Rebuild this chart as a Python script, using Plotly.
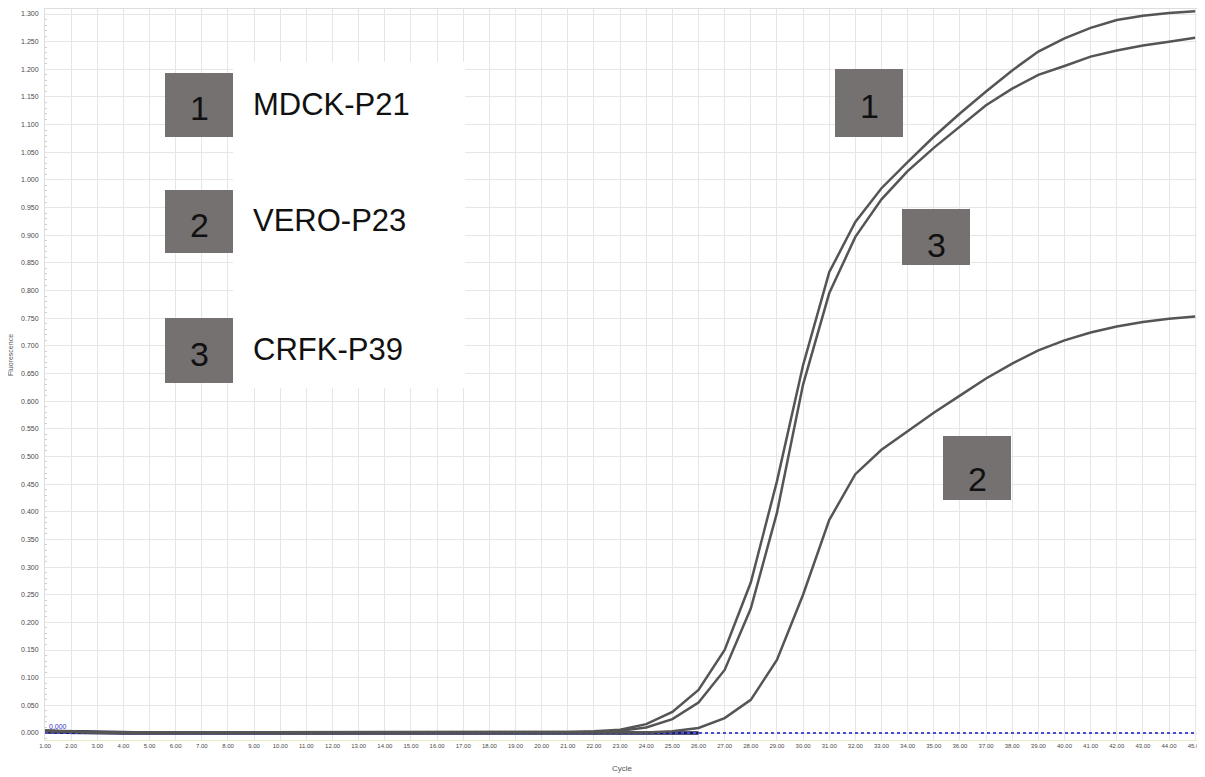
import plotly.graph_objects as go

# ---------------- data ----------------
cycles = list(range(1, 46))

mdck_p21 = [0.004, 0.002, 0.001, 0.001, 0.001, 0.001, 0.001, 0.001, 0.001, 0.001,
            0.001, 0.001, 0.001, 0.001, 0.001, 0.001, 0.001, 0.001, 0.001, 0.002,
            0.002, 0.003, 0.006, 0.016, 0.038, 0.078, 0.150, 0.272, 0.455, 0.665,
            0.833, 0.924, 0.985, 1.032, 1.078, 1.120, 1.160, 1.198, 1.232, 1.256,
            1.275, 1.289, 1.297, 1.302, 1.305]

crfk_p39 = [0.004, 0.002, 0.001, 0.001, 0.001, 0.001, 0.001, 0.001, 0.001, 0.001,
            0.001, 0.001, 0.001, 0.001, 0.001, 0.001, 0.001, 0.001, 0.001, 0.001,
            0.001, 0.002, 0.004, 0.010, 0.025, 0.055, 0.114, 0.225, 0.398, 0.630,
            0.795, 0.897, 0.965, 1.016, 1.058, 1.097, 1.135, 1.165, 1.190, 1.206,
            1.223, 1.234, 1.243, 1.250, 1.257]

vero_p23 = [0.004, 0.002, 0.001, 0.001, 0.001, 0.001, 0.001, 0.001, 0.001, 0.001,
            0.001, 0.001, 0.001, 0.001, 0.001, 0.001, 0.001, 0.001, 0.001, 0.001,
            0.001, 0.001, 0.001, 0.001, 0.003, 0.009, 0.027, 0.060, 0.132, 0.250,
            0.385, 0.468, 0.512, 0.546, 0.579, 0.610, 0.641, 0.668, 0.692, 0.710,
            0.724, 0.735, 0.743, 0.749, 0.753]

baseline_cycles = list(range(1, 27))
baseline_a = [0.004, 0.003, 0.002, 0.001, 0.001, 0.001, 0.001, 0.001, 0.001, 0.001,
              0.001, 0.001, 0.001, 0.001, 0.001, 0.001, 0.001, 0.001, 0.001, 0.001,
              0.001, 0.001, 0.001, 0.001, 0.001, 0.001]
baseline_b = [0.001, 0.000, -0.001, -0.001, -0.001, -0.001, -0.001, -0.001, -0.001, -0.001,
              -0.001, -0.001, -0.001, -0.001, -0.001, -0.001, -0.001, -0.001, -0.001, -0.001,
              -0.001, -0.001, -0.001, -0.001, -0.001, -0.001]

threshold_value = 0.000
threshold_label = "0.000"

legend_numbers = ["1", "2", "3"]
legend_names = ["MDCK-P21", "VERO-P23", "CRFK-P39"]

y_title = "Fluorescence"
x_title = "Cycle"

# ---------------- layout geometry (screen pixels) ----------------
# page body has a default 8px margin; the figure starts at (8, 8) on screen
OX, OY = 8, 8
SW, SH = 1205, 777
W, H = SW - OX, SH - OY
plot_left, plot_right, plot_top, plot_bottom = 45, 1198, 8, 740
L, R, T, B = plot_left - OX, SW - plot_right, plot_top - OY, SH - plot_bottom
PW, PH = plot_right - plot_left, plot_bottom - plot_top


def px(x):
    return (x - plot_left) / PW


def py(y):
    return (plot_bottom - y) / PH


fig = go.Figure()

for ys in (baseline_a, baseline_b):
    fig.add_trace(go.Scatter(x=baseline_cycles, y=ys, mode="lines",
                             line=dict(color="#1c1c50", width=2.5),
                             showlegend=False, hoverinfo="skip"))

fig.add_trace(go.Scatter(x=[cycles[0], cycles[-1]], y=[threshold_value, threshold_value],
                         mode="lines", line=dict(color="#4b4bd0", width=2, dash="dot"),
                         showlegend=False, hoverinfo="skip"))

for name, ys in zip(legend_names, (mdck_p21, vero_p23, crfk_p39)):
    fig.add_trace(go.Scatter(x=cycles, y=ys, mode="lines", name=name,
                             line=dict(color="#555555", width=2.5),
                             showlegend=False))

shapes = []
annotations = []

# white text panel
shapes.append(dict(type="rect", xref="paper", yref="paper",
                   x0=px(233), x1=px(465), y0=py(388), y1=py(62),
                   fillcolor="white", line=dict(width=0), layer="above"))

box_fill = "#767171"
digit_font = dict(family="Arial, Liberation Sans", size=34, color="#111111")
# left legend boxes: (top, bottom)
left_boxes = [(73, 137), (190, 253), (318, 383)]
for (t, b), num, name in zip(left_boxes, legend_numbers, legend_names):
    shapes.append(dict(type="rect", xref="paper", yref="paper",
                       x0=px(165), x1=px(233), y0=py(b), y1=py(t),
                       fillcolor=box_fill, line=dict(width=0), layer="above"))
    annotations.append(dict(xref="paper", yref="paper", x=px(199), y=py((t + b) / 2 + 3),
                            text=num, showarrow=False, font=digit_font,
                            xanchor="center", yanchor="middle"))
    annotations.append(dict(xref="paper", yref="paper", x=px(251), y=py((t + b) / 2 - 1),
                            text=name, showarrow=False,
                            font=dict(family="Arial, Liberation Sans", size=31, color="#111111"),
                            xanchor="left", yanchor="middle"))

# boxes on curves: (x0, x1, top, bottom, label, text center y)
curve_boxes = [(835, 903, 69, 137, "1", 106), (902, 970, 209, 265, "3", 245),
               (943, 1011, 436, 500, "2", 479)]
for x0, x1, t, b, num, cy in curve_boxes:
    shapes.append(dict(type="rect", xref="paper", yref="paper",
                       x0=px(x0), x1=px(x1), y0=py(b), y1=py(t),
                       fillcolor=box_fill, line=dict(width=0), layer="above"))
    annotations.append(dict(xref="paper", yref="paper", x=px((x0 + x1) / 2), y=py(cy),
                            text=num, showarrow=False, font=digit_font,
                            xanchor="center", yanchor="middle"))

small_font = "Liberation Sans Narrow, Liberation Sans"
annotations.append(dict(xref="x", yref="paper", x=cycles[0], y=py(726),
                        text=threshold_label, showarrow=False, xanchor="left", yanchor="middle",
                        xshift=2, font=dict(family=small_font, size=7, color="#3535c8")))

annotations.append(dict(xref="paper", yref="paper", x=px(622), y=py(768),
                        text=x_title, showarrow=False, xanchor="center", yanchor="middle",
                        font=dict(family=small_font, size=8, color="#555555")))
annotations.append(dict(xref="paper", yref="paper", x=px(10), y=py(355),
                        text=y_title, showarrow=False, xanchor="center", yanchor="middle",
                        textangle=-90,
                        font=dict(family=small_font, size=7, color="#555555")))

px_per_cycle = 26.14
px_per_unit = 553.1
x_lo = 1.0
x_hi = 1.0 + PW / px_per_cycle
y_lo = -(plot_bottom - 733) / px_per_unit
y_hi = 1.3 + (14 - plot_top) / px_per_unit

fig.update_layout(
    width=W, height=H,
    margin=dict(l=L, r=R, t=T, b=B, autoexpand=False),
    paper_bgcolor="white", plot_bgcolor="white",
    shapes=shapes, annotations=annotations,
    showlegend=False,
    xaxis=dict(range=[x_lo, x_hi], dtick=1, tick0=1, tickformat=".2f",
               showgrid=True, gridcolor="#e6e6e6", gridwidth=1,
               zeroline=False, showline=True, linecolor="#e6edc8", mirror=False,
               ticks="", ticklabeloverflow="allow",
               tickfont=dict(family=small_font, size=6, color="#4a4a4a")),
    yaxis=dict(range=[y_lo, y_hi], dtick=0.05, tick0=0, tickformat=".3f",
               showgrid=True, gridcolor="#e6e6e6", gridwidth=1,
               zeroline=False, showline=True, linecolor="#dddddd", mirror=False,
               ticks="", ticklabelstandoff=4,
               minor=dict(dtick=0.01, ticks="inside", ticklen=2, tickcolor="#cccccc"),
               tickfont=dict(family=small_font, size=7, color="#4a4a4a")),
)

fig.add_shape(type="line", xref="paper", yref="paper", x0=0, x1=1, y0=1, y1=1,
              line=dict(color="#dddddd", width=2))

fig.write_html("out.html")
